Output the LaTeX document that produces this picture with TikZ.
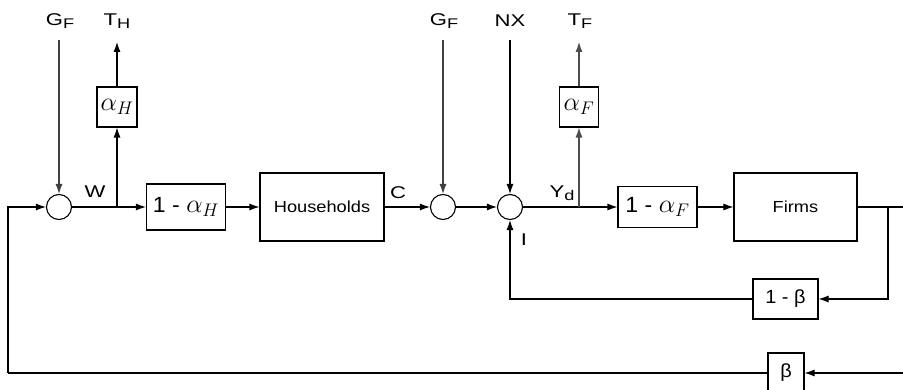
\RequirePackage{fix-cm}
\documentclass[tikz,border=0pt]{standalone}
\usepackage{fontspec}
\setmainfont{Liberation Sans}
\newfontfamily\lblfont{Liberation Sans}[FakeStretch=1.3]
\newfontfamily\boxfont{Liberation Sans}[FakeStretch=1.14]
\newfontfamily\gainfont{Liberation Sans}[FakeStretch=1.05]
\usetikzlibrary{arrows.meta}
\newcommand{\lsub}[1]{\raisebox{-2.5pt}{\fontsize{14}{14}\selectfont #1}}
\tikzset{
  arr/.style={line width=1.1pt, -{Latex[length=10pt,width=7pt]}},
  ln/.style={line width=1.1pt},
  sumnode/.style={circle, draw, line width=1.1pt, minimum size=25pt, inner sep=0pt},
  blk/.style={rectangle, draw, line width=1.1pt, inner sep=0pt, font=\boxfont\fontsize{16}{19}\selectfont},
  gain/.style={rectangle, draw, line width=1.1pt, inner sep=0pt, font=\gainfont\fontsize{22}{24}\selectfont},
  lbl/.style={inner sep=0pt, font=\lblfont\fontsize{17}{20}\selectfont},
}
\newcommand{\galpha}[1]{{\fontsize{26}{28}\selectfont$\alpha_{#1}$}}
\begin{document}
\begin{tikzpicture}[x=1pt,y=-1pt]
\useasboundingbox[fill=white] (0,0) rectangle (903,390);
% labels
\node[lbl] (gf1) at (60,21) {G\lsub{F}};
\node[lbl] (th) at (117,21) {T\lsub{H}};
\node[lbl] (gf2) at (444,21) {G\lsub{F}};
\node[lbl] (nx) at (510,21) {NX};
\node[lbl] (tf) at (580,21) {T\lsub{F}};
\node[lbl] (w) at (95,192) {W};
\node[lbl] (c) at (398,193) {C};
\node[lbl] (yd) at (562,193) {Y\lsub{d}};
\node[lbl] (i) at (524,240) {I};
% summing junctions
\node[sumnode] (s1) at (59,207) {};
\node[sumnode] (s2) at (443,207) {};
\node[sumnode] (s3) at (510,207) {};
% blocks
\node[gain, minimum width=40pt, minimum height=40pt] (aH) at (117,107) {\galpha{H}};
\node[gain, minimum width=79pt, minimum height=46pt] (b1) at (186,207) {1 - \galpha{H}};
\node[blk, minimum width=124pt, minimum height=68pt] (hh) at (322,207) {Households};
\node[gain, minimum width=39pt, minimum height=40pt] (aF) at (579,107) {\galpha{F}};
\node[gain, minimum width=79pt, minimum height=41pt] (b2) at (657.5,207) {1 - \galpha{F}};
\node[blk, minimum width=123pt, minimum height=68pt] (firms) at (795.5,207) {Firms};
\node[gain, font=\gainfont\fontsize{19}{22}\selectfont, minimum width=65pt, minimum height=40pt] (b3) at (785.5,299) {1 - β};
\node[gain, font=\gainfont\fontsize{19}{22}\selectfont, minimum width=36pt, minimum height=40pt] (b4) at (786,373) {β};
% coordinates
\coordinate (gf1t) at (59,40);
\coordinate (tht) at (117,42);
\coordinate (gf2t) at (443,40);
\coordinate (nxt) at (510,40);
\coordinate (tft) at (579,42);
\coordinate (wb) at (117,207);
\coordinate (yb) at (579,207);
\coordinate (fb) at (888,207);
\coordinate (re) at (906,207);
\coordinate (rb) at (906,373);
\coordinate (lb) at (8,373);
% connectors
\draw[arr, black!75] (gf1t) -- (s1);
\draw[arr] (s1) -- (b1);
\draw[arr] (wb) -- (aH);
\draw[arr] (aH) -- (tht);
\draw[arr] (b1) -- (hh);
\draw[arr] (hh) -- (s2);
\draw[arr, black!75] (gf2t) -- (s2);
\draw[arr] (s2) -- (s3);
\draw[arr] (nxt) -- (s3);
\draw[arr] (s3) -- (b2);
\draw[arr, black!70] (yb) -- (aF);
\draw[arr, black!70] (aF) -- (tft);
\draw[arr] (b2) -- (firms);
\draw[ln] (firms) -- (re);
\draw[arr] (fb) |- (b3);
\draw[arr] (b3) -| (s3);
\draw[arr] (rb) -- (b4);
\draw[ln] (b4) -- (lb);
\draw[arr] (lb) |- (s1);
\end{tikzpicture}
\end{document}
